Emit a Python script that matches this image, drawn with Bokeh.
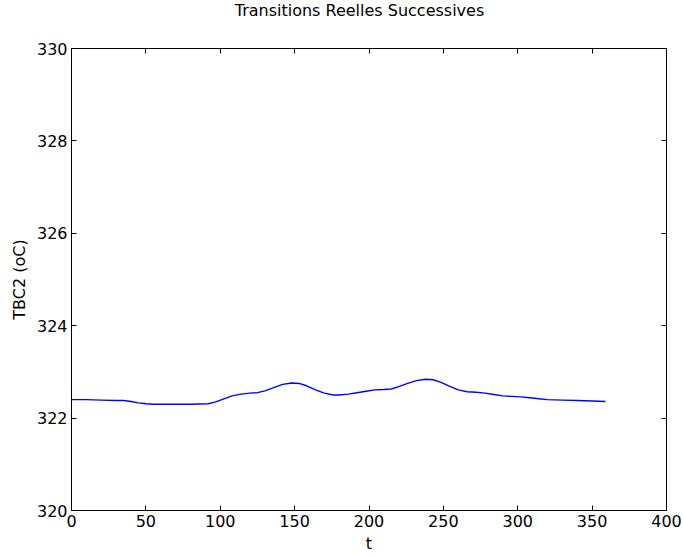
from bokeh.plotting import figure
from bokeh.models import Range1d, LinearAxis, FixedTicker
from bokeh.embed import file_html
from bokeh.resources import INLINE

t = [0, 10, 20, 30, 35, 40, 45, 50, 55, 60, 70, 80, 92, 97, 102, 108, 114, 120, 125,
     130, 136, 142, 148, 153, 158, 164, 170, 176, 180, 186, 192, 198, 204, 210, 215,
     220, 226, 232, 238, 243, 248, 254, 260, 266, 272, 278, 284, 290, 296, 302, 308,
     314, 320, 330, 340, 350, 359]
tbc2 = [322.40, 322.40, 322.39, 322.38, 322.38, 322.36, 322.33, 322.31, 322.30, 322.30,
        322.30, 322.30, 322.31, 322.35, 322.41, 322.48, 322.52, 322.54, 322.55,
        322.59, 322.66, 322.73, 322.76, 322.75, 322.70, 322.61, 322.54, 322.50, 322.50,
        322.52, 322.55, 322.58, 322.61, 322.62, 322.63, 322.68, 322.75, 322.81, 322.84,
        322.83, 322.78, 322.69, 322.61, 322.57, 322.56, 322.54, 322.51, 322.48, 322.47,
        322.46, 322.44, 322.42, 322.40, 322.39, 322.38, 322.37, 322.36]
x_ticks = [0, 50, 100, 150, 200, 250, 300, 350, 400]
y_ticks = [320, 322, 324, 326, 328, 330]

FONT = "DejaVu Sans"

p = figure(width=683, height=556, output_backend="svg", toolbar_location=None,
           x_range=Range1d(0, 400), y_range=Range1d(320, 330),
           title="Transitions Reelles Successives",
           min_border_left=71, min_border_right=17, min_border_top=48, min_border_bottom=46)
p.title.align = "center"
p.title.vertical_align = "top"
p.title.text_font = FONT
p.title.text_font_size = "16px"
p.title.text_font_style = "normal"
p.title.text_color = "black"
p.title.offset = 0
p.title.standoff = 0
p.title.padding = dict(left=0, right=19, top=0, bottom=27)
p.grid.visible = False
p.outline_line_color = "black"
p.outline_line_width = 1
p.background_fill_color = "white"
p.border_fill_color = "white"

p.line(t, tbc2, line_color="#0000ff", line_width=1.4)

for ax in (p.xaxis[0], p.yaxis[0]):
    ax.major_tick_in = 5
    ax.major_tick_out = 0
    ax.minor_tick_in = 0
    ax.minor_tick_out = 0
    ax.major_label_text_font = FONT
    ax.major_label_text_font_size = "16px"
    ax.major_label_text_color = "black"
    ax.axis_label_text_font = FONT
    ax.axis_label_text_font_size = "16px"
    ax.axis_label_text_font_style = "normal"
    ax.axis_label_text_color = "black"
    ax.axis_line_color = "black"
    ax.major_tick_line_color = "black"
p.xaxis[0].ticker = FixedTicker(ticks=x_ticks)
p.yaxis[0].ticker = FixedTicker(ticks=y_ticks)
p.xaxis[0].axis_label = "t"
p.yaxis[0].axis_label = "TBC2 (oC)"
p.xaxis[0].major_label_standoff = 4
p.yaxis[0].major_label_standoff = 4
p.xaxis[0].axis_label_standoff = 4
p.yaxis[0].axis_label_standoff = 5

top = LinearAxis(ticker=FixedTicker(ticks=x_ticks), major_label_text_font_size="0px",
                 major_label_standoff=0,
                 major_tick_in=5, major_tick_out=0, minor_tick_in=0, minor_tick_out=0,
                 axis_line_color="black")
right = LinearAxis(ticker=FixedTicker(ticks=y_ticks), major_label_text_font_size="0px",
                   major_label_standoff=0,
                   major_tick_in=5, major_tick_out=0, minor_tick_in=0, minor_tick_out=0,
                   axis_line_color="black")
top.major_label_overrides = {v: "" for v in x_ticks}
right.major_label_overrides = {v: "" for v in y_ticks}
p.add_layout(top, "above")
p.add_layout(right, "right")

open("out.html", "w").write(file_html(p, INLINE))
